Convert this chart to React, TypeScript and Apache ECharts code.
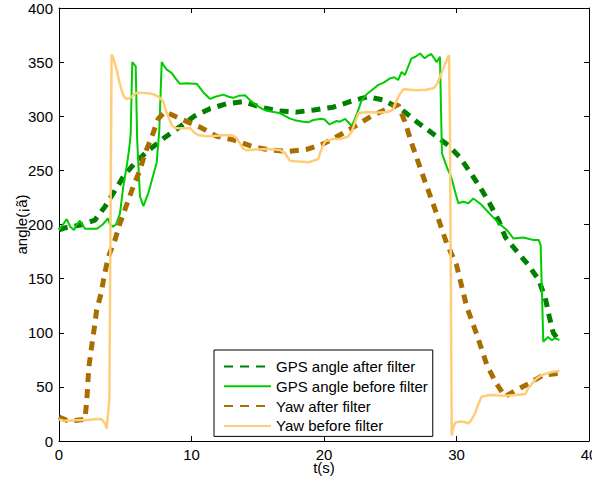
import React, { useEffect, useRef } from "react";
import * as echarts from "echarts";

// ---- data (t in seconds, angle in degrees) ----
const gpsAfterT = [0, 0.5, 1.6, 2.7, 3.47, 4.2, 4.9, 5.74, 6.7, 7.9, 9.13, 10.2, 11.4, 12.65, 13.9, 15.2, 16.5, 17.9, 19.25, 20.7, 21.96, 23.3, 24.5, 25.9, 26.99, 28.2, 29.35, 30.26, 31.1, 31.8, 32.5, 33.2, 33.7, 34.5, 35.4, 36.2, 36.7, 37.0, 37.3, 37.6];
const gpsAfterV = [195, 197, 199.5, 204, 216.5, 231, 245, 257, 268, 279.6, 290.4, 300, 307, 311.5, 313.5, 308.5, 305, 303.8, 305.8, 308.4, 313.5, 318, 315, 305.8, 295, 284, 273.4, 262, 247, 234, 219.6, 203, 188, 176, 163, 149, 132, 115, 100, 95];

const gpsBeforeT = [0, 0.3, 0.58, 0.85, 1.13, 1.35, 1.58, 1.96, 2.4, 2.85, 3.3, 3.7, 3.85, 4.08, 4.3, 4.6, 4.85, 5.1, 5.3, 5.41, 5.53, 5.79, 5.9, 6.11, 6.37, 6.74, 7.1, 7.37, 7.57, 7.75, 7.95, 8.13, 8.5, 8.85, 9.13, 9.64, 10.1, 10.4, 10.9, 11.4, 11.8, 12.4, 12.8, 13.16, 13.6, 14.04, 14.4, 14.9, 15.3, 15.67, 16.2, 16.7, 17.4, 17.9, 18.44, 18.8, 19.2, 19.45, 19.8, 20.05, 20.4, 20.96, 21.2, 21.6, 22.1, 22.5, 22.85, 23.2, 23.6, 24.1, 24.5, 24.98, 25.3, 25.6, 25.86, 26.1, 26.6, 26.9, 27.25, 27.6, 27.85, 28.1, 28.5, 28.75, 28.9, 29.3, 29.6, 29.9, 30.14, 30.5, 30.9, 31.27, 31.6, 31.9, 32.5, 33.2, 33.8, 34.3, 35.04, 35.8, 36.2, 36.35, 36.55, 36.9, 37.2, 37.4, 37.77];
const gpsBeforeV = [195, 200, 205, 198, 195, 200, 203.5, 196, 196, 196, 200, 205.7, 200, 198, 200, 210, 235, 253, 270, 284, 350, 346, 278, 226, 217, 229, 245, 257, 287, 350, 346, 343, 340, 334, 330, 330.5, 330, 330, 322, 316, 318, 320, 318, 317, 319, 319.5, 315, 310, 307, 305, 304, 302.7, 298, 296, 295, 294.4, 296.5, 297, 297.7, 297, 292.5, 295.6, 295, 297.5, 291, 302.7, 315, 320, 324, 329, 331, 335, 336, 333.5, 341, 338, 353.5, 355, 358, 353.5, 356, 357.5, 350, 355, 265.7, 252, 244, 230, 219.6, 221, 219.6, 224, 221, 218, 210, 201, 195, 187, 188, 185.7, 185.7, 181, 91.7, 96, 93, 95, 93.3];

const yawAfterT = [0, 0.6, 1.2, 1.96, 2.1, 2.25, 2.46, 2.66, 2.84, 3.17, 3.42, 3.72, 4.23, 4.6, 5.1, 5.6, 6.1, 6.5, 7.0, 7.5, 8.0, 8.38, 9.38, 10.64, 11.9, 13.2, 14.6, 15.9, 17.3, 18.7, 19.95, 21.2, 22.5, 23.7, 25.0, 25.6, 26.1, 26.7, 27.5, 28.4, 29.26, 30.0, 30.77, 31.5, 32.3, 33.0, 33.66, 34.5, 35.5, 36.55, 37.7];
const yawAfterV = [22, 19, 19, 20, 38, 68, 87, 104, 121, 136, 153, 170, 186, 201, 218, 235, 250, 266, 281, 298, 304, 302, 296.5, 290, 281.5, 278, 272, 268.8, 267.5, 269.5, 274.5, 282.7, 292, 301, 308, 310.4, 295, 272, 244, 213.4, 182.6, 162.6, 124, 99.5, 70, 53.3, 41, 47, 53.3, 61, 62.5];

const yawBeforeT = [0, 0.3, 0.7, 1.2, 1.7, 2.2, 2.7, 3.2, 3.47, 3.6, 3.8, 3.97, 4.15, 4.35, 4.55, 4.73, 4.9, 5.1, 5.3, 5.48, 5.75, 6.0, 6.4, 6.87, 7.2, 7.5, 7.7, 7.87, 8.05, 8.25, 8.5, 8.75, 9.38, 9.89, 10.2, 10.5, 11.1, 11.65, 12.4, 12.9, 13.16, 13.4, 13.66, 13.9, 14.17, 14.9, 15.67, 16.2, 16.68, 17.06, 17.25, 17.43, 17.8, 18.4, 18.9, 19.2, 19.57, 19.7, 19.9, 20.1, 20.7, 21.2, 21.8, 22.1, 22.35, 22.6, 23.2, 24.0, 24.7, 25.2, 25.5, 25.75, 26.0, 26.5, 27.0, 27.7, 28.25, 28.5, 28.75, 29.0, 29.26, 29.43, 29.5, 29.64, 29.75, 29.9, 30.26, 30.6, 30.9, 31.1, 31.4, 31.65, 31.9, 32.5, 33.2, 33.8, 34.5, 35.2, 35.4, 35.7, 36.05, 36.4, 36.8, 37.3, 37.77];
const yawBeforeV = [20, 19, 18.8, 19.2, 19.3, 19.4, 20, 20.3, 16.3, 11.5, 38, 357, 352, 343, 332, 324, 318, 316, 316.5, 318, 321, 321.8, 321.5, 321, 320, 318, 316, 313.5, 306, 299.6, 292, 289, 289, 289, 285, 282.7, 281.5, 281.8, 282.5, 282.7, 282, 279.6, 275, 270, 268.5, 269.4, 269.7, 269.3, 268.8, 266, 262, 259, 258.5, 258, 257.5, 259, 260.5, 265.8, 272, 277, 279, 279, 281, 285.7, 295, 302.7, 304, 303.5, 303.6, 305.8, 315, 321, 324.9, 324.5, 324, 324.5, 325.8, 329, 336.5, 344, 352, 356.6, 300, 5, 12, 17, 18, 17.5, 16.3, 19, 25.6, 34, 41, 42.5, 42, 41.9, 42.5, 43.4, 48.6, 53, 57.9, 60.5, 62.5, 64, 64.7];

const seriesNames = ["GPS angle after filter", "GPS angle before filter", "Yaw after filter", "Yaw before filter"];
const xRange = [0, 40];
const yRange = [0, 400];

const zip = (t: number[], v: number[]) => t.map((x, i) => [x, v[i]]);

export default function App() {
  const ref = useRef<HTMLDivElement>(null);
  useEffect(() => {
    document.body.style.margin = "0";
    const chart = echarts.init(ref.current!, null, { renderer: "svg" });
    const font = "'Liberation Sans', Arial, Helvetica, sans-serif";
    const lineAxis = { show: true, onZero: false, lineStyle: { color: "#000", width: 1 } };
    const tick = { show: true, inside: true, length: 5, lineStyle: { color: "#000", width: 1 } };
    const label = { color: "#000", fontFamily: font, fontSize: 15 };
    chart.setOption({
      animation: false,
      backgroundColor: "#fff",
      grid: { left: 59, top: 8, width: 530, height: 433, containLabel: false, outerBoundsMode: "none" },
      xAxis: [
        {
          type: "value", min: xRange[0], max: xRange[1], interval: 10, position: "bottom",
          axisLine: lineAxis, axisTick: tick, splitLine: { show: false },
          axisLabel: { ...label, margin: 7, lineHeight: 12 },
          name: "t(s)", nameLocation: "middle", nameGap: 20, nameMoveOverlap: false,
          nameTextStyle: { color: "#000", fontFamily: font, fontSize: 15, lineHeight: 12 },
        },
        {
          type: "value", min: xRange[0], max: xRange[1], interval: 10, position: "top",
          axisLine: lineAxis, axisTick: tick, splitLine: { show: false }, axisLabel: { show: false },
        },
      ],
      yAxis: [
        {
          type: "value", min: yRange[0], max: yRange[1], interval: 50, position: "left",
          axisLine: lineAxis, axisTick: tick, splitLine: { show: false },
          axisLabel: { ...label, margin: 6 },
          name: "angle(¡ã)", nameLocation: "middle", nameGap: 30, nameRotate: 90, nameMoveOverlap: false,
          nameTextStyle: { color: "#000", fontFamily: font, fontSize: 15 },
        },
        {
          type: "value", min: yRange[0], max: yRange[1], interval: 50, position: "right",
          axisLine: lineAxis, axisTick: tick, splitLine: { show: false }, axisLabel: { show: false },
        },
      ],
      legend: {
        orient: "vertical", left: 214, top: 350,
        itemWidth: 47, itemHeight: 14, itemGap: 4.8,
        padding: [9, 5, 3, 9],
        borderColor: "#000", borderWidth: 1, backgroundColor: "#fff", borderRadius: 0,
        itemStyle: { opacity: 0, color: "transparent", borderWidth: 0 },
        textStyle: { color: "#000", fontFamily: font, fontSize: 15, lineHeight: 14 },
        data: seriesNames,
      },
      series: [
        {
          name: seriesNames[0], type: "line", data: zip(gpsAfterT, gpsAfterV), symbol: "none",
          lineStyle: { color: "#007f00", width: 5, type: [9, 7], cap: "butt" }, itemStyle: { color: "#007f00" },
        },
        {
          name: seriesNames[1], type: "line", data: zip(gpsBeforeT, gpsBeforeV), symbol: "none",
          lineStyle: { color: "#00cc00", width: 2 }, itemStyle: { color: "#00cc00" },
        },
        {
          name: seriesNames[2], type: "line", data: zip(yawAfterT, yawAfterV), symbol: "none",
          lineStyle: { color: "#a86e00", width: 5, type: [9, 7], cap: "butt" }, itemStyle: { color: "#a86e00" },
        },
        {
          name: seriesNames[3], type: "line", data: zip(yawBeforeT, yawBeforeV), symbol: "none",
          lineStyle: { color: "#ffcc77", width: 2.5 }, itemStyle: { color: "#ffcc77" },
        },
      ],
    });
    return () => chart.dispose();
  }, []);
  return <div ref={ref} style={{ width: 592, height: 486 }} />;
}
